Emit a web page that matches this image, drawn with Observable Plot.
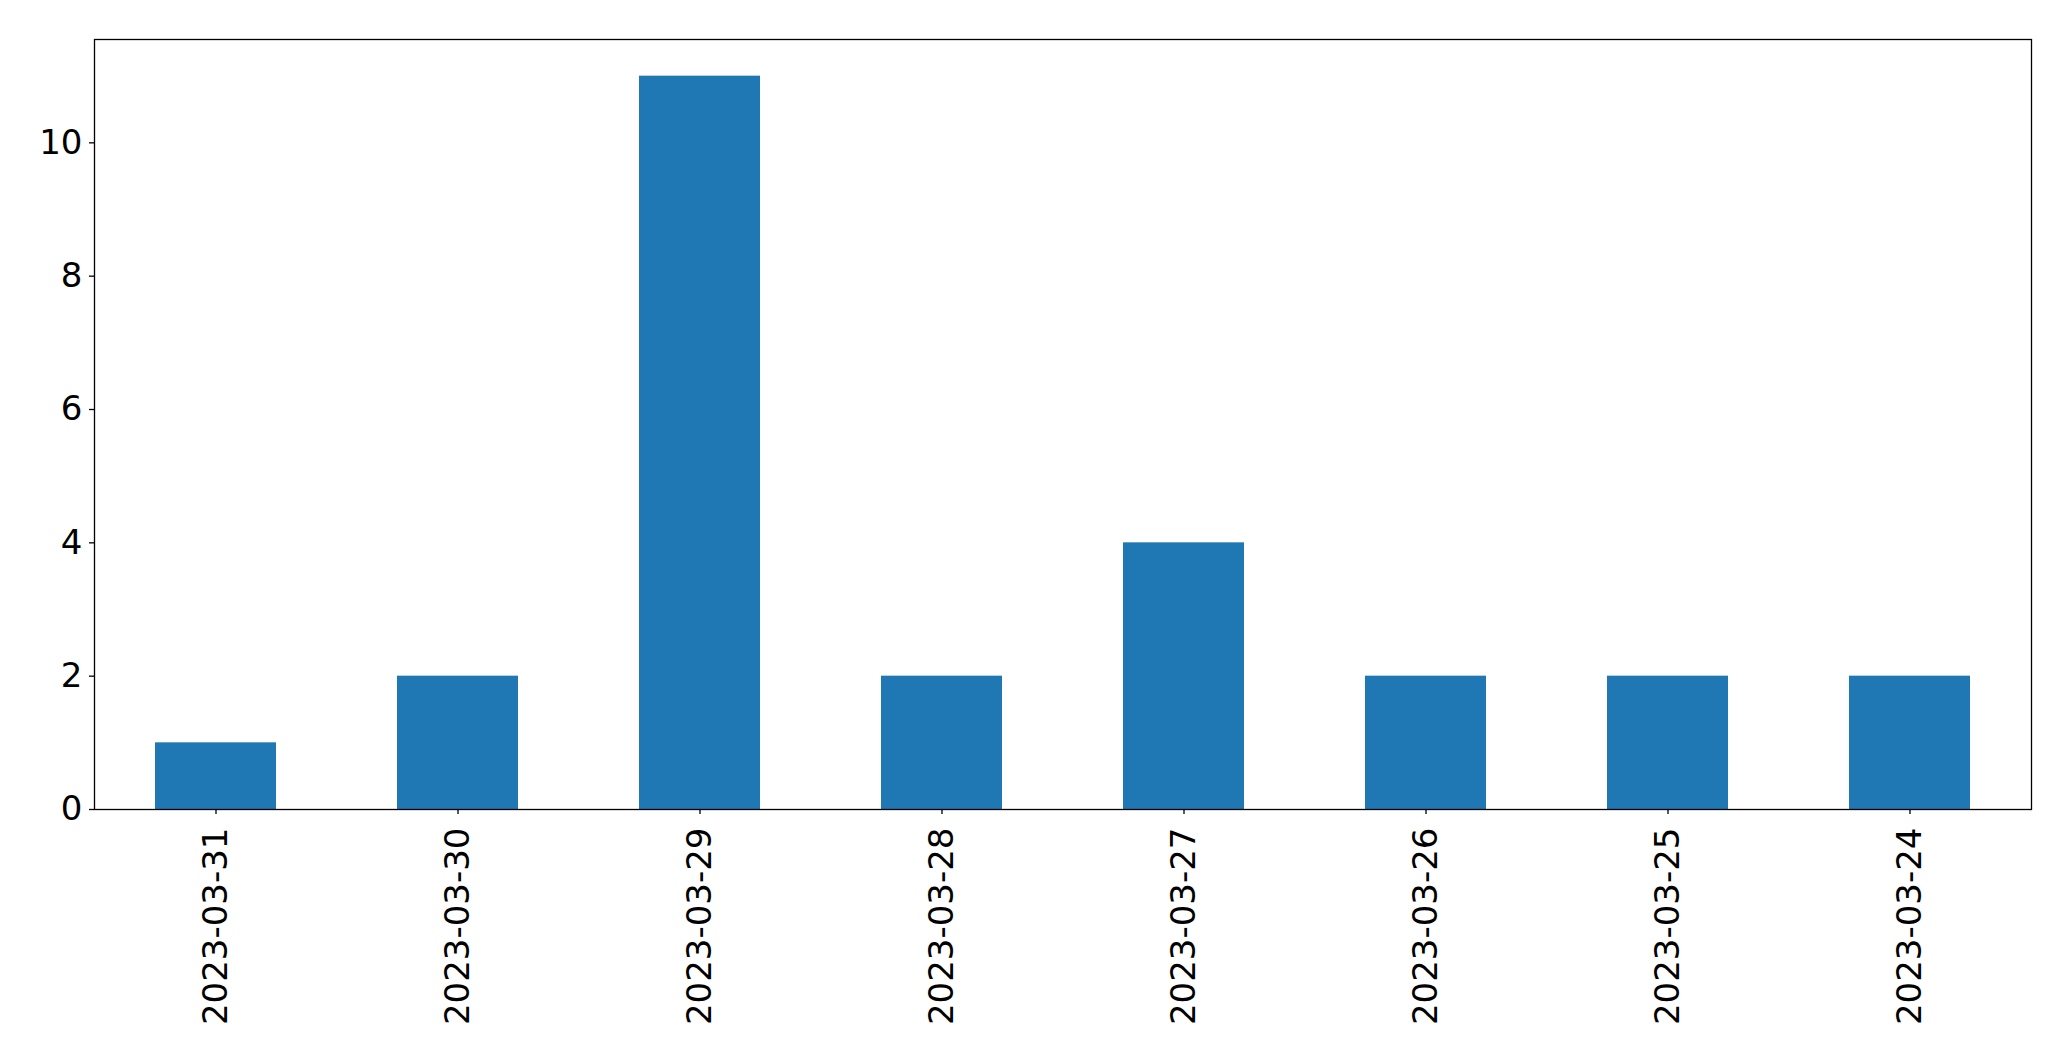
<!DOCTYPE html>
<html>
<head>
<meta charset="utf-8">
<script src="https://cdn.jsdelivr.net/npm/d3@7"></script>
<script src="https://cdn.jsdelivr.net/npm/@observablehq/plot@0.6"></script>
<style>
  html, body { margin: 0; padding: 0; background: #fff; overflow: hidden; }
  #chart svg { display: block; }
</style>
</head>
<body>
<div id="chart"></div>
<script>
const dates = ["2023-03-31", "2023-03-30", "2023-03-29", "2023-03-28", "2023-03-27", "2023-03-26", "2023-03-25", "2023-03-24"];
const counts = [1, 2, 11, 2, 4, 2, 2, 2];
const yTicks = [0, 2, 4, 6, 8, 10];

const data = dates.map((d, i) => ({date: d, count: counts[i]}));

const chart = Plot.plot({
  width: 2071,
  height: 1061,
  marginLeft: 94,
  marginRight: 40,
  marginTop: 39,
  marginBottom: 252,
  style: {fontFamily: "DejaVu Sans", fontSize: "34px", color: "#000", background: "#fff"},
  x: {type: "band", domain: dates, paddingInner: 0.5, paddingOuter: 0.25, label: null},
  y: {domain: [0, 11.55], label: null},
  marks: [
    Plot.barY(data, {x: "date", y: "count", fill: "#1f77b4"}),
    Plot.axisX({tickRotate: -90, tickSize: 5, tickPadding: 13, fontSize: 34, label: null, stroke: "#000", strokeWidth: 1.3}),
    Plot.axisY({ticks: yTicks, tickSize: 5, tickPadding: 7, fontSize: 34, label: null, stroke: "#000", strokeWidth: 1.3, tickFormat: d => String(d)}),
    Plot.frame({stroke: "#000", strokeWidth: 1.3})
  ]
});
document.getElementById("chart").appendChild(chart);
</script>
</body>
</html>
